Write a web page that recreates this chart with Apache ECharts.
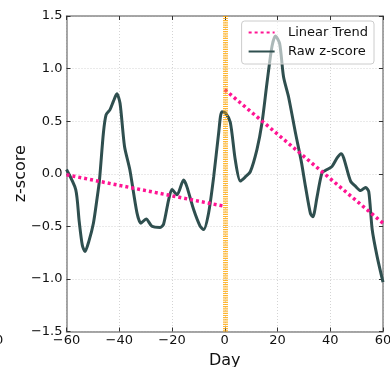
<!DOCTYPE html>
<html>
<head>
<meta charset="utf-8">
<script src="https://cdn.jsdelivr.net/npm/echarts@6/dist/echarts.min.js"></script>
<style>
  html, body { margin: 0; padding: 0; background: #fff; }
  #chart { width: 390px; height: 367px; }
</style>
</head>
<body>
<div id="chart"></div>
<script>
// Raw daily z-score around the event day (day, z)
const rawZ = [
  [-60, 0.04], [-56.5, -0.15], [-55.2, -0.45], [-54, -0.68], [-53, -0.74], [-51.5, -0.64],
  [-49.8, -0.47], [-48.5, -0.25], [-47.5, -0.06], [-46, 0.39], [-45, 0.56],
  [-43.5, 0.61], [-42.2, 0.69], [-40.9, 0.76], [-39.7, 0.67], [-38, 0.26],
  [-36, 0.04], [-33.3, -0.37], [-31.8, -0.47], [-29.8, -0.43], [-27.6, -0.50],
  [-24.5, -0.51], [-23.2, -0.48], [-21.3, -0.25], [-20.0, -0.15], [-18.1, -0.20],
  [-15.6, -0.06], [-14.4, -0.12], [-11.8, -0.34], [-9.3, -0.50], [-8.0, -0.53],
  [-6.1, -0.37], [-4.2, -0.03], [-2.3, 0.39], [-1.1, 0.59], [0.2, 0.58],
  [2.1, 0.49], [4.0, 0.13], [5.9, -0.07], [7.8, -0.03], [9.7, 0.02],
  [12.2, 0.23], [14.1, 0.48], [16.0, 0.86], [17.9, 1.21], [19.2, 1.31],
  [20.8, 1.24], [22.3, 0.92], [24.2, 0.73], [26.8, 0.39], [29.0, 0.12],
  [30.6, -0.12], [32.5, -0.38], [33.4, -0.41], [35.0, -0.22], [36.9, 0.01],
  [38.8, 0.04], [40.7, 0.07], [42.6, 0.15], [44.1, 0.19], [45.1, 0.15],
  [47.7, -0.07], [49.6, -0.12], [51.5, -0.16], [53.4, -0.13], [54.6, -0.17],
  [55.9, -0.53], [57.8, -0.79], [60, -1.03]
];

// Linear trend fitted before and after day 0
const trendBefore = [[-60, -0.01], [0, -0.31]];
const trendAfter = [[0, 0.80], [60, -0.47]];

// Event day marker
const eventDay = 0;

const xTicks = { min: -60, max: 60, step: 20 };
const yTicks = { min: -1.5, max: 1.5, step: 0.5 };

const FONT = 'DejaVu Sans';
const minus = s => String(s).replace('-', '\u2212');
const frameColor = '#8a8a8a';
const tickStyle = { show: true, inside: true, length: 4, lineStyle: { color: '#333', width: 1 } };

const chart = echarts.init(document.getElementById('chart'), null, { renderer: 'canvas' });

const baseX = {
  type: 'value', min: xTicks.min, max: xTicks.max, interval: xTicks.step,
  axisLine: { show: true, onZero: false, lineStyle: { color: frameColor, width: 1.5 } },
  axisTick: tickStyle
};
const baseY = {
  type: 'value', min: yTicks.min, max: yTicks.max, interval: yTicks.step,
  axisLine: { show: true, onZero: false, lineStyle: { color: frameColor, width: 1.5 } },
  axisTick: tickStyle
};

chart.setOption({
  animation: false,
  backgroundColor: '#fff',
  grid: { left: 66.5, right: 7, top: 16, bottom: 35.5, containLabel: false, outerBoundsMode: 'none' },
  xAxis: [
    Object.assign({}, baseX, {
      position: 'bottom',
      name: 'Day', nameLocation: 'middle', nameGap: 21, nameMoveOverlap: false,
      nameTextStyle: { fontFamily: FONT, fontSize: 16, color: '#111' },
      axisLabel: { formatter: v => minus(v), fontFamily: FONT, fontSize: 13, color: '#111', margin: 3 },
      splitLine: { show: true, lineStyle: { color: '#d4d4d4', type: [1, 2], width: 1 } }
    }),
    Object.assign({}, baseX, {
      position: 'top', axisLabel: { show: false }, splitLine: { show: false }
    })
  ],
  yAxis: [
    Object.assign({}, baseY, {
      position: 'left',
      name: 'z-score', nameLocation: 'middle', nameGap: 38, nameRotate: 90, nameMoveOverlap: false,
      nameTextStyle: { fontFamily: FONT, fontSize: 16, color: '#111' },
      axisLabel: { formatter: v => minus(v.toFixed(1)), fontFamily: FONT, fontSize: 13, color: '#111', margin: 4 },
      splitLine: { show: true, lineStyle: { color: '#d4d4d4', type: [1, 2], width: 1 } }
    }),
    Object.assign({}, baseY, {
      position: 'right', axisLabel: { show: false }, splitLine: { show: false }
    })
  ],
  legend: {
    orient: 'vertical',
    right: 16, top: 21,
    backgroundColor: 'rgba(255,255,255,0.6)',
    borderColor: '#cccccc', borderWidth: 1, borderRadius: 3,
    padding: [5, 6, 6, 6],
    itemGap: 6, itemWidth: 26, itemHeight: 14,
    itemStyle: { opacity: 0 },
    formatter: name => '  ' + name,
    textStyle: { fontFamily: FONT, fontSize: 13, color: '#111' },
    data: ['Linear Trend', 'Raw z-score']
  },
  series: [
    {
      name: 'Linear Trend', type: 'line', data: trendBefore, showSymbol: false, symbol: 'none',
      lineStyle: { color: '#ff1493', width: 3.5, type: [3, 3] }, itemStyle: { color: '#ff1493' },
      z: 4, silent: true
    },
    {
      name: 'Linear Trend', type: 'line', data: trendAfter, showSymbol: false, symbol: 'none',
      lineStyle: { color: '#ff1493', width: 3.5, type: [3, 3] }, itemStyle: { color: '#ff1493' },
      z: 4, silent: true
    },
    {
      name: 'Raw z-score', type: 'line', data: rawZ, smooth: 0.25, showSymbol: false, symbol: 'none',
      lineStyle: { color: '#2f4f4f', width: 3 }, itemStyle: { color: '#2f4f4f' },
      z: 3, silent: true,
      markLine: {
        silent: true, symbol: 'none', label: { show: false },
        lineStyle: { color: '#ffa500', width: 5, type: [1.2, 1], opacity: 0.8 },
        data: [{ xAxis: eventDay }],
        z: 5
      }
    }
  ],
  graphic: [
    { type: 'text', left: -5, top: 334, style: { text: '0', fontFamily: FONT, fontSize: 13, fill: '#111' } }
  ]
});
</script>
</body>
</html>
